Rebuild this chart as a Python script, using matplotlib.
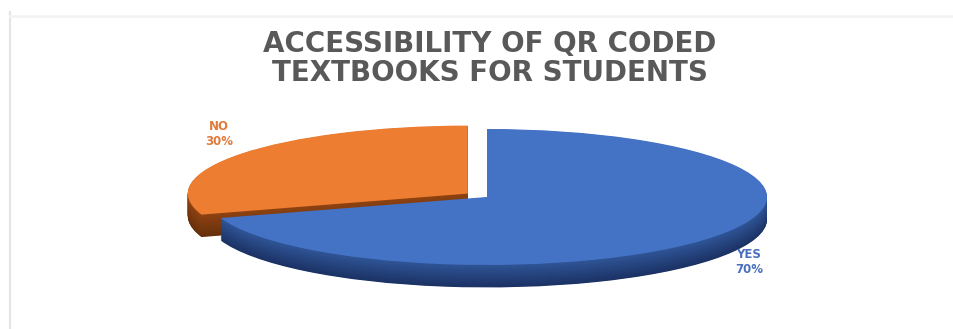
import matplotlib.pyplot as plt
from matplotlib.colors import to_rgb

# chart data
labels = ["YES", "NO"]
shares = [70, 30]
top_colors = ["#4472C4", "#ED7D31"]
side_top = ["#2F5597", "#8F4211"]
side_bottom = ["#1B3264", "#66300C"]
label_colors = ["#4A6FBF", "#E07B3C"]
title_lines = ["ACCESSIBILITY OF QR CODED", "TEXTBOOKS FOR STUDENTS"]

plt.rcParams["font.family"] = ["DejaVu Sans"]

fig = plt.figure(figsize=(9.54, 3.29), dpi=100)
fig.patch.set_facecolor("white")

# faint chart area border
border = fig.add_axes([0, 0, 1, 1])
border.set_xlim(0, 954)
border.set_ylim(329, 0)
border.axis("off")
border.plot([10, 10], [12, 329], color="#e4e4e4", lw=1.5)
border.plot([10, 954], [16, 16], color="#f3f3f3", lw=2)

# pie axes, squashed so the circle looks like a tilted disc
ax = fig.add_axes([0, 0, 1, 1])
cx, cy, rx, ry = 487, 197, 280, 68
depth = 0.33
explode = [0, 0.085]


def mix(c1, c2, t):
    a, b = to_rgb(c1), to_rgb(c2)
    return tuple(a[k] + (b[k] - a[k]) * t for k in range(3))


# extruded side: stack of darker pies going down
n_layers = 40
for i in range(n_layers, 0, -1):
    t = i / n_layers
    cols = [mix(side_top[j], side_bottom[j], t) for j in range(2)]
    ax.pie(shares, colors=cols, startangle=90, counterclock=False,
           explode=explode, center=(0, -depth * t), radius=1,
           wedgeprops=dict(linewidth=0))

# top surface
ax.pie(shares, colors=top_colors, startangle=90, counterclock=False,
       explode=explode, center=(0, 0), radius=1,
       wedgeprops=dict(linewidth=0))

ax.set_aspect("auto")
ax.set_xlim(-cx / rx, (954 - cx) / rx)
ax.set_ylim((cy - 329) / ry, cy / ry)
ax.axis("off")

# title
fig.text(490 / 954, 1 - 52 / 329, title_lines[0], ha="center",
         va="baseline", fontsize=20, fontweight="bold", color="#595959")
fig.text(490 / 954, 1 - 81 / 329, title_lines[1], ha="center",
         va="baseline", fontsize=20, fontweight="bold", color="#595959")

# data labels
fig.text(219 / 954, 1 - 134 / 329, f"{labels[1]}\n{shares[1]}%",
         ha="center", va="center", fontsize=8.5, fontweight="bold",
         color=label_colors[1], linespacing=1.25)
fig.text(749 / 954, 1 - 262 / 329, f"{labels[0]}\n{shares[0]}%",
         ha="center", va="center", fontsize=8.5, fontweight="bold",
         color=label_colors[0], linespacing=1.25)

fig.savefig("out.png", dpi=100)
